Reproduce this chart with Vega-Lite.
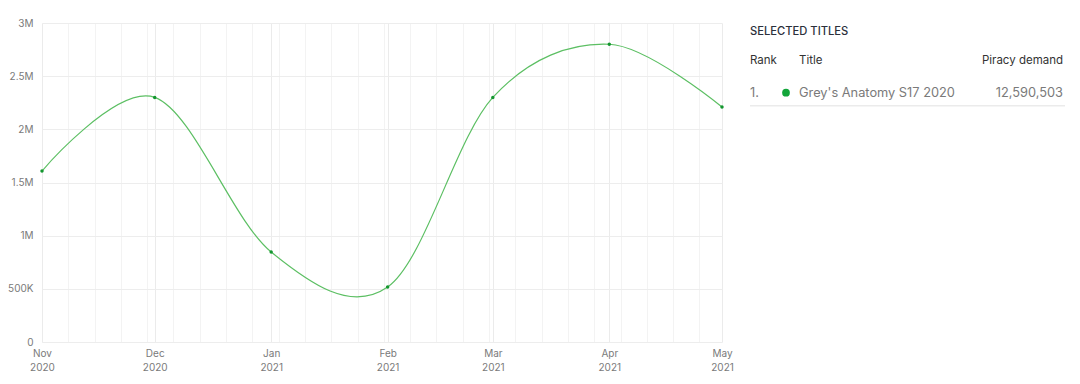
{
  "$schema": "https://vega.github.io/schema/vega-lite/v6.json",
  "background": "white",
  "padding": {"left": 7, "top": 18, "right": 5, "bottom": 5},
  "spacing": 15,
  "config": {
    "view": {"stroke": null},
    "font": "Inter",
    "axis": {"labelFont": "Inter", "labelColor": "#7a7a7a", "labelFontSize": 10, "ticks": false, "domain": false, "title": null, "labelFlush": false}
  },
  "datasets": {
    "series": [
      {"date": "2020-11-01", "demand": 1608000},
      {"date": "2020-12-01", "demand": 2300000},
      {"date": "2021-01-01", "demand": 846000},
      {"date": "2021-02-01", "demand": 517000},
      {"date": "2021-03-01", "demand": 2300000},
      {"date": "2021-04-01", "demand": 2800000},
      {"date": "2021-05-01", "demand": 2210000}
    ],
    "table": [
      {"row": "caption", "col": "rank", "text": "SELECTED TITLES"},
      {"row": "header", "col": "rank", "text": "Rank"},
      {"row": "header", "col": "title", "text": "Title"},
      {"row": "header", "col": "demand", "text": "Piracy demand"},
      {"row": "row1", "col": "rank", "text": "1."},
      {"row": "row1", "col": "title", "text": "Grey's Anatomy S17 2020"},
      {"row": "row1", "col": "demand", "text": "12,590,503"}
    ]
  },
  "hconcat": [
    {
      "width": 680,
      "height": 319,
      "data": {"name": "series"},
      "resolve": {"axis": {"x": "independent"}},
      "layer": [
        {
          "mark": {"type": "line", "interpolate": "cardinal", "color": "#5cbf63", "strokeWidth": 1.2},
          "encoding": {
            "x": {
              "field": "date", "type": "temporal",
              "scale": {"type": "utc", "domain": [{"year": 2020, "month": 11, "date": 1, "utc": true}, {"year": 2021, "month": 5, "date": 1, "utc": true}]},
              "axis": {"orient": "top", "grid": true, "gridColor": "#f3f3f3", "labels": false, "tickCount": {"interval": "week", "step": 1}}
            },
            "y": {
              "field": "demand", "type": "quantitative",
              "scale": {"domain": [0, 3000000], "nice": false},
              "axis": {
                "values": [0, 500000, 1000000, 1500000, 2000000, 2500000, 3000000],
                "grid": true, "gridColor": "#ededed", "labelPadding": 9,
                "labelExpr": "datum.value == 0 ? '0' : (datum.value >= 1000000 ? format(datum.value / 1000000, '~g') + 'M' : format(datum.value / 1000, '~g') + 'K')"
              }
            }
          }
        },
        {
          "mark": {"type": "point", "filled": true, "color": "#13962f", "size": 12, "opacity": 1},
          "encoding": {
            "x": {
              "field": "date", "type": "temporal",
              "axis": {
                "orient": "bottom", "grid": true, "gridColor": "#ebebeb", "labelPadding": 6, "labelLineHeight": 14,
                "values": [
                  {"year": 2020, "month": 11, "date": 1, "utc": true},
                  {"year": 2020, "month": 12, "date": 1, "utc": true},
                  {"year": 2021, "month": 1, "date": 1, "utc": true},
                  {"year": 2021, "month": 2, "date": 1, "utc": true},
                  {"year": 2021, "month": 3, "date": 1, "utc": true},
                  {"year": 2021, "month": 4, "date": 1, "utc": true},
                  {"year": 2021, "month": 5, "date": 1, "utc": true}
                ],
                "labelExpr": "[utcFormat(datum.value, '%b'), utcFormat(datum.value, '%Y')]"
              }
            },
            "y": {"field": "demand", "type": "quantitative"}
          }
        }
      ]
    },
    {
      "width": 315,
      "height": 76,
      "data": {"name": "table"},
      "encoding": {
        "x": {"field": "col", "type": "nominal", "scale": {"type": "point", "domain": ["rank", "title", "demand"], "padding": 0}, "axis": null},
        "y": {"field": "row", "type": "nominal", "scale": {"type": "point", "domain": ["caption", "header", "row1"], "padding": 0.24}, "axis": null},
        "text": {"field": "text", "type": "nominal"}
      },
      "layer": [
        {
          "transform": [{"filter": "datum.row == 'caption'"}],
          "mark": {"type": "text", "align": "left", "baseline": "middle", "fontSize": 11.2, "fontWeight": 500, "color": "#2b303b", "dy": 2}
        },
        {
          "transform": [{"filter": "datum.row == 'header' && datum.col == 'rank'"}],
          "mark": {"type": "text", "align": "left", "baseline": "middle", "fontSize": 11.5, "color": "#333333"}
        },
        {
          "transform": [{"filter": "datum.row == 'header' && datum.col == 'title'"}],
          "mark": {"type": "text", "align": "left", "baseline": "middle", "fontSize": 11.5, "color": "#333333", "dx": -108.5}
        },
        {
          "transform": [{"filter": "datum.row == 'header' && datum.col == 'demand'"}],
          "mark": {"type": "text", "align": "right", "baseline": "middle", "fontSize": 11.5, "color": "#333333", "dx": -2}
        },
        {
          "transform": [{"filter": "datum.row == 'row1' && datum.col == 'rank'"}],
          "mark": {"type": "text", "align": "left", "baseline": "middle", "fontSize": 12.8, "color": "#7a7a7a", "dy": 1}
        },
        {
          "transform": [{"filter": "datum.row == 'row1' && datum.col == 'title'"}],
          "mark": {"type": "text", "align": "left", "baseline": "middle", "fontSize": 12.8, "color": "#7a7a7a", "dx": -108.5, "dy": 1}
        },
        {
          "transform": [{"filter": "datum.row == 'row1' && datum.col == 'demand'"}],
          "mark": {"type": "text", "align": "right", "baseline": "middle", "fontSize": 12.8, "color": "#7a7a7a", "dx": -2, "dy": 1}
        },
        {
          "transform": [{"filter": "datum.row == 'row1' && datum.col == 'title'"}],
          "mark": {"type": "point", "filled": true, "shape": "circle", "size": 60, "color": "#12a53a", "opacity": 1, "xOffset": -121.5, "yOffset": 1},
          "encoding": {"text": null}
        },
        {
          "transform": [{"filter": "datum.row == 'row1' && datum.col == 'rank'"}],
          "mark": {"type": "rule", "color": "#ebebeb", "strokeWidth": 1.5, "yOffset": 14},
          "encoding": {"x": null, "text": null}
        }
      ]
    }
  ]
}
